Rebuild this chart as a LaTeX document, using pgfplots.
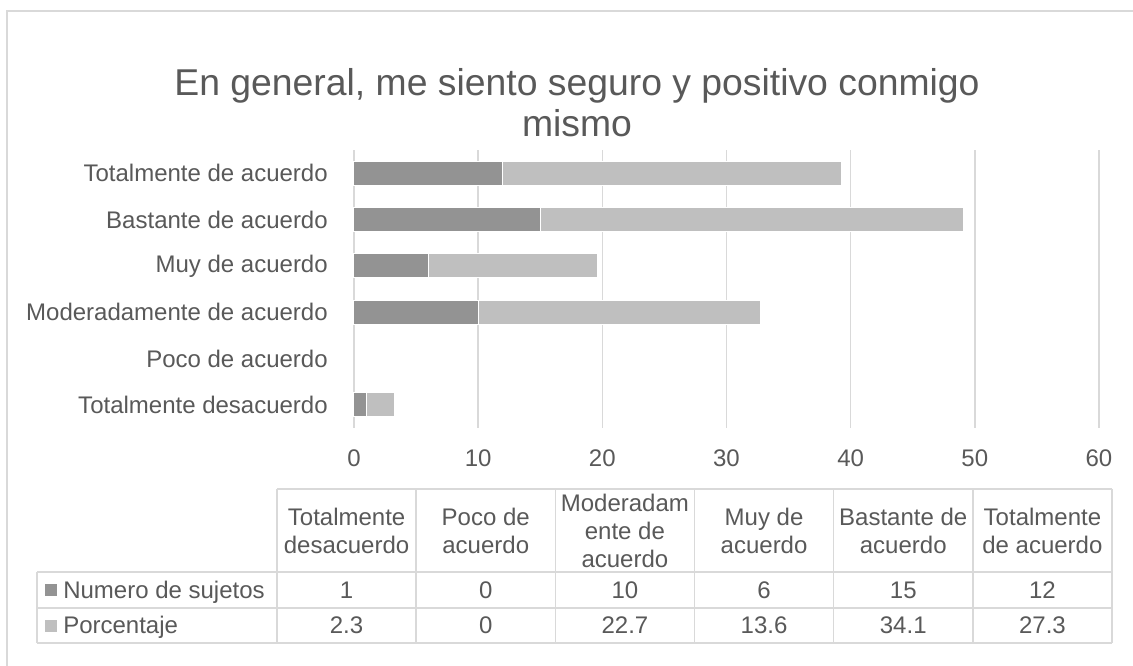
\documentclass[border=0pt]{standalone}
\usepackage{fontspec}
\setmainfont{Liberation Sans}
\usepackage{pgfplots}
\usepackage{pgfplotstable}
\pgfplotsset{compat=1.18}
\definecolor{txt}{HTML}{595959}
\definecolor{gridc}{HTML}{D9D9D9}
\definecolor{darkbar}{HTML}{939393}
\definecolor{lightbar}{HTML}{BFBFBF}
\pgfplotstableread{
y sujetos porcentaje
0 1 2.3
1 0 0
2 10 22.7
3 6 13.6
4 15 34.1
5 12 27.3
}\datatab
\begin{document}
\begin{tikzpicture}
\begin{scope}[x=0.75pt,y=-0.75pt]
\useasboundingbox (0,0) rectangle (1133,666);
\fill[white] (0,0) rectangle (1133,666);
\draw[gridc, line width=1.1pt] (7,667) -- (7,11) -- (1134,11);
% title
\node[txt, font=\fontsize{28}{32}\selectfont, anchor=base] at (577,96) {En general, me siento seguro y positivo conmigo};
\node[txt, font=\fontsize{28}{32}\selectfont, anchor=base] at (577,137) {mismo};
% table grid
\begin{scope}[gridc, line width=1.1pt]
\draw (277,489) -- (1112,489);
\foreach \k in {0,...,6} {\draw ({277+\k*139.1667},489) -- ({277+\k*139.1667},643);}
\draw (37,572) -- (1112,572);
\draw (37,608) -- (1112,608);
\draw (37,643) -- (1112,643);
\draw (37,572) -- (37,643);
\end{scope}
\begin{scope}[every node/.style={txt, font=\fontsize{18}{21}\selectfont, align=center, inner sep=0pt}]
\node at ({277+0.5*139.1667},531) {Totalmente\\desacuerdo};
\node at ({277+1.5*139.1667},531) {Poco de\\acuerdo};
\node at ({277+2.5*139.1667},531) {Moderadam\\ente de\\acuerdo};
\node at ({277+3.5*139.1667},531) {Muy de\\acuerdo};
\node at ({277+4.5*139.1667},531) {Bastante de\\acuerdo};
\node at ({277+5.5*139.1667},531) {Totalmente\\de acuerdo};
\foreach \v [count=\i from 0] in {1,0,10,6,15,12} {\node[anchor=base] at ({277+(\i+0.5)*139.1667},598.5) {\v};}
\foreach \v [count=\i from 0] in {2.3,0,22.7,13.6,34.1,27.3} {\node[anchor=base] at ({277+(\i+0.5)*139.1667},634) {\v};}
\node[anchor=base west] at (63,598.5) {Numero de sujetos};
\node[anchor=base west] at (63,634) {Porcentaje};
\end{scope}
\fill[darkbar] (45,584) rectangle (57,596);
\fill[lightbar] (45,620) rectangle (57,632);
\end{scope}
\begin{axis}[
  at={(265.5pt,-321pt)}, anchor=south west,
  scale only axis, width=558.75pt, height=208.5pt,
  xbar stacked, bar width=18pt,
  xmin=0, xmax=60, ymin=-0.5, ymax=5.5,
  ytick={0,1,2,3,4,5},
  yticklabels={Totalmente desacuerdo,Poco de acuerdo,Moderadamente de acuerdo,Muy de acuerdo,Bastante de acuerdo,Totalmente de acuerdo},
  xtick={0,10,...,60},
  xmajorgrids, grid style={gridc, line width=1.2pt},
  axis line style={draw=none},
  major tick length=0pt,
  tick label style={txt, font=\fontsize{18}{21}\selectfont},
  /pgf/number format/assume math mode=true,
  yticklabel style={anchor=east, inner sep=0pt, xshift=-19.5pt},
  xticklabel style={anchor=north, inner sep=0pt, yshift=-16pt},
  clip=false,
]
\addplot[fill=darkbar, draw=white, line width=0.75pt] table[x=sujetos, y=y] {\datatab};
\addplot[fill=lightbar, draw=white, line width=0.75pt] table[x=porcentaje, y=y] {\datatab};
\end{axis}
\end{tikzpicture}
\end{document}
